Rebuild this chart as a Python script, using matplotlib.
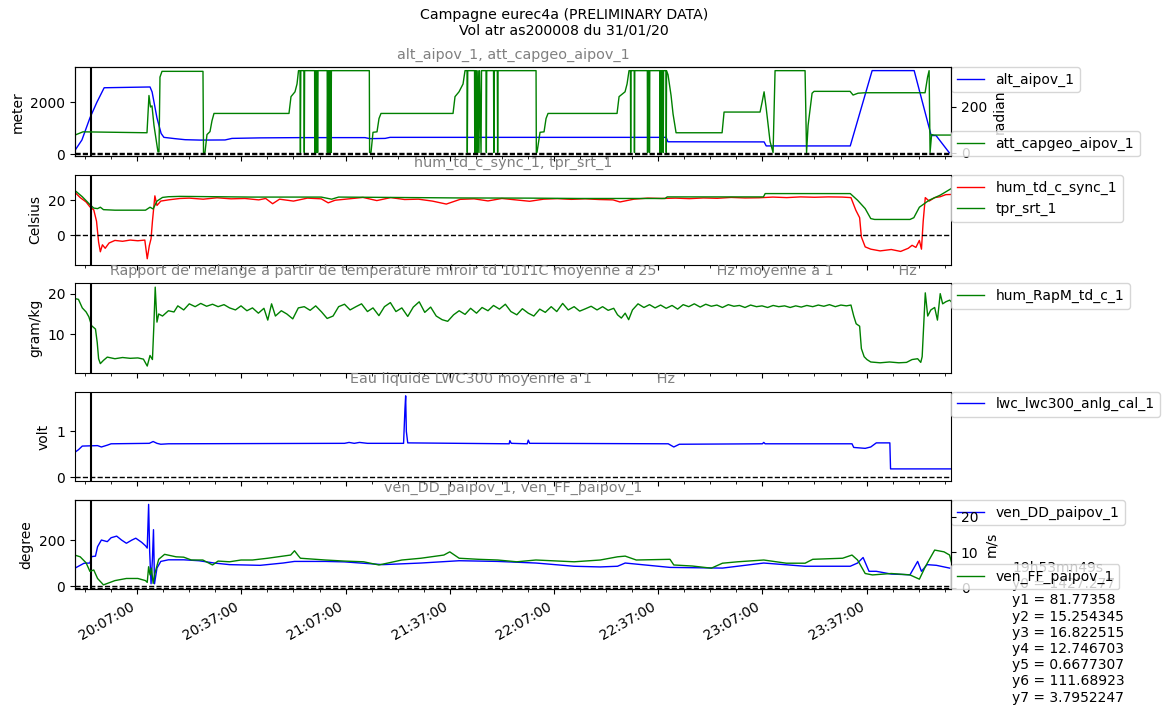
import numpy as np
import pandas as pd
import matplotlib
matplotlib.use("Agg")
import matplotlib.pyplot as plt
import matplotlib.dates as mdates
from matplotlib.ticker import MaxNLocator, AutoMinorLocator

# all times are minutes after 19:00 on 31/01/20 (values past 240 are after midnight)
cursor_t = 53.817   # 19h53mn49s
t_start, t_end = 49.1, 301.3

alt_t = [49.1, 51.1, 53.4, 55.4, 57.5, 70.7, 71.3, 72.7, 73.9, 74.7, 77.9, 80.8, 85.1, 92.3,
         94.3, 102.4, 113.9, 132.6, 134.0, 138.4, 139.8, 219.3, 219.8, 247.5, 248.1, 272.3,
         278.6, 290.7, 295.6, 297.0, 300.8]
alt_m = [150, 550, 1400, 2000, 2560, 2590, 2400, 1400, 800, 650, 600, 560, 545, 550,
         610, 630, 640, 640, 600, 610, 650, 650, 480, 475, 320, 320,
         3220, 3220, 720, 720, 60]

cap_t = [49.1, 51.4, 69.83, 70.40, 70.84, 71.27, 71.84, 72.99, 73.28, 73.57, 74.15, 85.95,
         86.10, 86.53, 87.10, 87.97, 88.54, 89.12, 110.71, 111.29, 112.44, 113.02, 113.45,
         113.88, 114.00, 114.11, 115.03, 115.12, 115.21, 118.09, 118.14, 118.26, 118.43,
         118.55, 118.72, 118.83, 118.95, 119.07, 121.71, 121.77, 121.89, 122.12, 122.23,
         122.46, 122.58, 122.81, 122.92, 133.84, 133.92, 134.33, 134.90, 136.05, 136.63,
         137.20, 157.94, 158.51, 159.66, 160.82, 161.39, 161.97, 162.05, 162.17, 164.13,
         164.19, 164.33, 164.56, 164.70, 164.99, 165.14, 165.42, 165.57, 166.00, 166.14,
         167.44, 167.53, 167.64, 169.60, 169.69, 169.80, 170.69, 170.78, 170.89, 181.84,
         181.92, 182.12, 182.99, 184.14, 184.72, 185.29, 205.16, 205.74, 207.46, 208.04,
         208.61, 209.02, 209.08, 209.16, 210.11, 210.17, 210.26, 213.88, 213.94, 214.03,
         214.43, 214.49, 214.58, 217.46, 217.51, 217.60, 217.89, 217.94, 218.03, 218.40,
         218.46, 218.55, 219.27, 219.33, 219.41, 219.84, 220.71, 221.28, 222.15, 235.40,
         235.97, 246.33, 246.91, 247.49, 248.06, 249.21, 250.08, 250.65, 259.29, 259.72,
         260.16, 261.31, 261.88, 272.25, 273.11, 274.55, 276.57, 293.84, 294.56, 295.00,
         295.28, 295.72, 296.44, 301.33]
cap_deg = [78, 92, 88, 250, 200, 205, 120, 5, 5, 330, 355, 355,
           2, 3, 80, 93, 140, 172, 172, 245, 266, 300, 358,
           358, 2, 358, 358, 2, 358, 358, 2, 358, 2,
           358, 2, 358, 2, 358, 358, 2, 358, 2, 358,
           2, 358, 2, 358, 358, 2, 3, 90, 92, 150,
           172, 172, 245, 266, 300, 358, 358, 2, 358, 358,
           2, 358, 2, 358, 2, 358, 2, 358, 2, 358,
           358, 2, 358, 358, 2, 358, 358, 2, 358, 358,
           2, 3, 90, 92, 150, 172, 172, 245, 266, 300,
           358, 358, 2, 358, 358, 2, 358, 358, 2, 358,
           358, 2, 358, 358, 2, 358, 358, 2, 358, 358,
           2, 358, 358, 2, 358, 340, 250, 170, 88, 88,
           178, 178, 220, 266, 200, 50, 2, 358, 358, 2,
           120, 260, 268, 268, 252, 260, 262, 262, 330, 358,
           2, 80, 78, 78]

td_t = [49.0, 50.6, 52.3, 53.4, 54.5, 55.3, 55.9, 56.4, 57.0, 57.8, 58.9, 60.6, 62.8, 65.0,
        67.2, 69.2, 69.9, 70.5, 71.0, 71.4, 72.1, 72.7, 73.8, 76.0, 79.3, 82, 86, 90, 94, 98,
        102, 104, 106, 108, 112, 116, 120, 122, 124, 128, 132, 136, 140, 144, 148, 152, 156,
        160, 164, 168, 172, 176, 180, 184, 188, 192, 196, 200, 204, 206, 210, 214, 218, 222,
        226, 230, 234, 238, 242, 246, 250, 254, 258, 262, 266, 270, 272.5, 273.9, 275.0,
        275.5, 276.6, 278.2, 280.9, 284.1, 286.8, 289.0, 290.1, 291.2, 292.2, 292.8, 293.3,
        293.9, 295.0, 296.6, 298.2, 299.8, 301.4]
td_c = [24.7, 21.5, 19.0, 16.2, 14.5, 8, -4, -9.5, -5.5, -7.5, -4.5, -3, -3.5, -2.8,
        -3.2, -2.8, -13.5, -6, -2, 8, 22.5, 17, 19.5, 20.2, 21, 21.2, 20.6, 21.4, 20.8, 21.0,
        20.2, 21.0, 18.0, 20.6, 19.5, 21.2, 20.8, 18.5, 20.0, 20.8, 21.6, 19.8, 21.5, 20.4, 20.6,
        19.5, 17.8, 20.5, 20.8, 19.6, 21.0, 20.2, 19.4, 20.6, 20.9, 20.5, 20.8, 20.4, 20.2,
        19.0, 20.6, 21.2, 21.0, 21.2, 20.9, 21.3, 21.1, 21.6, 21.3, 21.4, 21.8, 21.5, 21.9,
        21.7, 21.9, 21.8, 21.5, 14.3, 10, -1, -6.7, -8, -9, -8.2, -9.3, -7.5, -5.8, -7, -3,
        -8, 8, 21.5, 19.5, 21.5, 22, 23.2, 23.3]

tpr_t = [49.0, 51.2, 53.4, 54.5, 55.6, 56.4, 57.3, 60.6, 69.4, 70.7, 71.6, 72.7, 74.3, 76.0,
         79.3, 100, 120, 123, 125, 140, 160, 180, 194, 219.0, 219.6, 247.3, 247.8, 272.3,
         274.4, 276.6, 278.2, 279.3, 289.5, 290.6, 292.2, 295.0, 298.2, 301.4]
tpr_c = [25.7, 22, 17.5, 15.5, 15.2, 16.0, 14.6, 14.3, 14.3, 16.0, 15.0, 19.5, 21.6, 22.0,
         22.2, 21.8, 21.8, 20.6, 21.8, 21.6, 21.3, 21.2, 21.0, 21.0, 21.9, 21.9, 23.8, 23.8,
         20, 15.2, 9.5, 9.0, 9.0, 10, 16, 20, 22.9, 26.7]

rapm_t = [49.0, 50.1, 51.2, 52.3, 53.1, 53.9, 55.0, 55.5, 55.9, 56.4, 57.3, 58.4, 60.6, 62.8,
          65.0, 67.2, 68.8, 69.9, 70.7, 71.4, 71.8, 72.2, 72.7, 73.2, 74.3, 76.0, 77.6, 78.7,
          80.4, 82.0, 83.7, 85.3, 87.0, 88.7, 90.3, 92.0, 93.6, 95.3, 96.9, 98.6, 100.2,
          101.9, 103.5, 104.6, 105.7, 106.8, 108.5, 110.1, 111.8, 113.4, 115.1, 116.8, 118.4,
          120.1, 121.7, 123.4, 125.0, 126.7, 128.3, 130.0, 131.6, 133.3, 134.9, 136.6, 138.2,
          139.9, 141.5, 143.2, 144.9, 146.5, 148.2, 149.8, 151.5, 153.1, 154.8, 156.4, 158.1,
          159.7, 161.4, 163.0, 164.7, 166.3, 168.0, 169.6, 171.3, 173.0, 174.6, 176.3, 177.9,
          179.6, 181.2, 182.9, 184.5, 186.2, 187.8, 189.5, 191.1, 192.8, 194.4, 196.1, 197.7,
          199.4, 201.0, 202.6, 204.2, 205.3, 206.4, 207.5, 208.5, 209.6, 211.2, 212.9, 214.5,
          216.1, 217.7, 219.3, 221.0, 222.6, 224.2, 225.8, 227.4, 229.1, 230.7, 232.3, 233.9,
          235.5, 237.2, 238.8, 240.4, 242.0, 243.6, 245.3, 246.9, 248.5, 250.1, 251.7, 253.4,
          255.0, 256.6, 258.2, 259.8, 261.5, 263.1, 264.7, 266.3, 268.0, 269.6, 271.2, 272.5,
          273.3, 274.0, 275.0, 275.5, 276.3, 277.1, 278.2, 280.9, 283.6, 286.3, 288.5, 290.1,
          291.7, 292.6, 293.0, 293.9, 294.6, 295.5, 296.6, 297.4, 298.2, 298.9, 299.8, 300.9,
          301.4]
rapm_gkg = [18.8, 18.6, 16.5, 15.5, 14.3, 12.1, 11.3, 8, 4, 2.8, 3.6, 4.4, 4.0, 4.3,
            4.1, 4.2, 3.9, 2.2, 4.8, 3.8, 12, 21.6, 13, 15, 14.5, 15.8, 15.5, 17,
            16, 17.5, 16.8, 17.6, 16.9, 17.4, 16.8, 17.3, 16.5, 16.0, 17.0, 15.8, 16.5,
            15.2, 16.4, 13.5, 17.5, 14.5, 15.8, 15.0, 13.8, 16.5, 16.8, 15.9, 17.0,
            15.5, 13.9, 14.5, 16.8, 17.4, 16.0, 16.8, 17.5, 15.6, 16.5, 14.6, 16.8,
            17.8, 15.6, 16.5, 14.4, 16.7, 18.0, 15.4, 16.7, 14.5, 13.6, 13.2, 14.8,
            15.8, 14.9, 16.4, 15.2, 16.6, 15.8, 17.1, 16.2, 17.4, 15.6, 14.8, 16.3,
            15.2, 14.5, 16.2, 15.4, 16.8, 15.6, 17.6, 16.0, 16.8, 15.7, 16.3, 16.9,
            16.0, 16.8, 15.9, 16.4, 14.8, 14.0, 15.2, 13.6, 16.0, 17.5, 16.6, 17.3,
            16.5, 17.2, 16.4, 17.1, 16.2, 17.3, 16.8, 17.5, 16.7, 17.4, 16.9, 17.2,
            16.6, 17.3, 16.9, 17.1, 16.6, 17.2, 16.8, 17.0, 16.6, 17.1, 16.8, 17.0,
            16.6, 17.0, 16.7, 17.1, 16.8, 17.2, 16.9, 17.3, 16.8, 17.2, 17.0, 17.2,
            14.5, 12.6, 12.0, 6.5, 4.5, 3.8, 3.2, 3.0, 3.2, 3.0, 3.1, 3.8,
            4.0, 3.1, 4.5, 20.2, 14.5, 16.0, 16.6, 13.5, 20.0, 17.5, 18.0, 18.4,
            18.0]

lwc_t = [49.0, 50.1, 51.2, 55.6, 56.7, 58.4, 59.5, 70.5, 71.6, 72.7, 73.8, 76.0, 126.7, 128.0,
         129.5, 131.0, 133.3, 143.7, 144.1, 144.3, 144.5, 144.9, 174.1, 174.3, 174.7, 179.3,
         179.6, 180.0, 219.9, 221.5, 223.1, 247.0, 247.4, 247.8, 272.8, 273.3, 276.6, 278.2,
         279.8, 283.7, 283.9, 301.4]
lwc_v = [0.54, 0.60, 0.68, 0.69, 0.66, 0.70, 0.73, 0.74, 0.78, 0.74, 0.72, 0.73, 0.74, 0.76,
         0.74, 0.76, 0.74, 0.74, 1.5, 1.78, 1.0, 0.75, 0.73, 0.80, 0.74, 0.73,
         0.81, 0.74, 0.73, 0.66, 0.72, 0.73, 0.76, 0.73, 0.73, 0.65, 0.63, 0.66,
         0.75, 0.75, 0.18, 0.18]

dd_t = [49.0, 51.7, 53.4, 53.9, 55.0, 55.6, 56.7, 58.4, 59.5, 61.1, 62.5, 63.9, 65.5, 66.6,
        68.3, 69.4, 69.9, 70.3, 70.6, 71.0, 71.4, 71.7, 72.0, 72.7, 73.8, 76.0, 80.4, 84.8,
        89.2, 93.6, 102.4, 109.0, 112.3, 121.2, 126.7, 137.7, 148.7, 159.7, 170.8, 181.8,
        192.8, 200.3, 205.3, 207.5, 220.4, 235.5, 247.4, 259.3, 272.3, 274.4, 276.0, 277.7,
        279.8, 284.1, 289.5, 291.7, 292.8, 294.4, 297.1, 300.9]
dd_deg = [77, 99, 100, 128, 130, 171, 200, 193, 210, 217, 200, 186, 200, 208,
          190, 175, 165, 355, 150, 10, 120, 245, 10, 78, 107, 114, 114, 110,
          100, 93, 90, 100, 107, 107, 105, 93, 100, 110, 107, 100,
          86, 83, 86, 100, 81, 78, 100, 86, 86, 100, 124, 64,
          64, 52, 49, 107, 64, 93, 90, 78]

ff_t = [49.0, 50.6, 52.3, 53.4, 54.5, 55.6, 57.3, 58.4, 60.6, 63.9, 67.2, 69.4, 69.9, 70.3,
        70.7, 71.1, 71.6, 72.1, 73.2, 74.9, 78.2, 80.4, 82.6, 85.9, 88.7, 90.3, 93.6, 96.9,
        100.2, 104.6, 109.0, 111.2, 112.3, 113.4, 114.0, 121.2, 126.7, 132.2, 136.6, 143.2,
        148.7, 155.3, 157.0, 159.7, 165.2, 170.8, 176.3, 181.8, 192.8, 200.3, 205.3, 207.5,
        210.7, 220.4, 221.5, 226.9, 232.3, 235.5, 239.9, 247.4, 253.9, 259.3, 261.5, 270.1,
        272.8, 274.4, 276.6, 278.7, 284.1, 289.5, 292.2, 293.9, 295.5, 296.6, 299.3, 300.9,
        301.4]
ff_ms = [9.2, 8.7, 7.0, 4.6, 5.0, 2.6, 0.8, 1.2, 2.0, 2.6, 2.6, 2.0, 1.5, 5.9,
         3.6, 5.5, 1.2, 4.0, 8.0, 9.4, 8.7, 8.6, 7.8, 7.8, 6.4, 7.5, 7.3, 7.8,
         7.8, 8.3, 8.9, 9.2, 10.4, 9.0, 8.3, 7.8, 7.5, 7.3, 6.4, 7.8,
         8.3, 9.2, 10.1, 8.3, 8.0, 7.8, 7.3, 7.8, 7.3, 7.8, 8.7, 8.9,
         7.8, 8.0, 6.4, 6.1, 5.5, 6.9, 7.3, 7.8, 6.9, 6.9, 8.0, 8.3,
         9.2, 7.8, 4.0, 3.6, 4.0, 3.6, 2.4, 5.9, 8.7, 10.6, 10.1, 9.2,
         7.3]

titles = ["alt_aipov_1, att_capgeo_aipov_1",
          "hum_td_c_sync_1, tpr_srt_1",
          "Rapport de melange a partir de temperature miroir td 1011C moyenne a 25"
          + " " * 13 + "Hz moyenne a 1" + " " * 14 + "Hz",
          "Eau liquide LWC300 moyenne a 1" + " " * 14 + "Hz",
          "ven_DD_paipov_1, ven_FF_paipov_1"]
units = ["meter", "Celsius", "gram/kg", "volt", "degree"]

readout = ("19h53mn49s\ny0 = 1427.277\ny1 = 81.77358\ny2 = 15.254345\ny3 = 16.822515\n"
           "y4 = 12.746703\ny5 = 0.6677307\ny6 = 111.68923\ny7 = 3.7952247")


def to_time(minutes):
    base = pd.Timestamp("2020-01-31 19:00:00")
    return (base + pd.to_timedelta(np.asarray(minutes, dtype=float), unit="min")).values


fig, axs = plt.subplots(5, 1, sharex=True, figsize=(11.68, 7.08), dpi=100)
fig.subplots_adjust(left=0.0642, right=0.8142, top=0.9054, bottom=0.1674, hspace=0.21)

ax1, ax2, ax3, ax4, ax5 = axs
ax1.plot(to_time(alt_t), alt_m, color="b", lw=1, label="alt_aipov_1")
ax1b = ax1.twinx()
ax1b.plot(to_time(cap_t), cap_deg, color="g", lw=1, label="att_capgeo_aipov_1")

ax2.plot(to_time(td_t), td_c, color="r", lw=1, label="hum_td_c_sync_1")
ax2.plot(to_time(tpr_t), tpr_c, color="g", lw=1, label="tpr_srt_1")

ax3.plot(to_time(rapm_t), rapm_gkg, color="g", lw=1, label="hum_RapM_td_c_1")

ax4.plot(to_time(lwc_t), lwc_v, color="b", lw=1, label="lwc_lwc300_anlg_cal_1")

ax5.plot(to_time(dd_t), dd_deg, color="b", lw=1, label="ven_DD_paipov_1")
ax5b = ax5.twinx()
ax5b.plot(to_time(ff_t), ff_ms, color="g", lw=1, label="ven_FF_paipov_1")

cursor = to_time([cursor_t])[0]
for ax, title, unit in zip(axs, titles, units):
    ax.axhline(0, color="k", ls="--", lw=1)
    ax.axvline(cursor, color="k", lw=1.5)
    ax.set_title(title, color="grey", fontsize=10.4)
    ax.set_ylabel(unit, fontsize=10)
    ax.legend(loc="upper left", bbox_to_anchor=(1, 1), borderaxespad=0, fontsize=10)

for tw, unit in [(ax1b, "radian"), (ax5b, "m/s")]:
    tw.axhline(0, color="k", ls="--", lw=1)
    tw.set_ylabel(unit, fontsize=10)
    tw.legend(loc="lower left", bbox_to_anchor=(1, 0), borderaxespad=0, fontsize=10)

ax1.set_ylim(-85, 3360)
ax1b.set_ylim(-15, 374)
ax2.set_ylim(-16.9, 34.3)
ax3.set_ylim(0.5, 22.5)
ax4.set_ylim(-0.09, 1.87)
ax5.set_ylim(-15, 374)
ax5b.set_ylim(-0.5, 24.7)

for ax in list(axs) + [ax1b, ax5b]:
    ax.yaxis.set_major_locator(MaxNLocator(3, steps=[1, 2, 2.5, 5, 10]))
    ax.tick_params(labelsize=10)

ax5.set_xlim(to_time([t_start])[0], to_time([t_end])[0])
ax5.xaxis.set_major_locator(mdates.MinuteLocator(byminute=[7, 37]))
ax5.xaxis.set_major_formatter(mdates.DateFormatter("%H:%M:%S"))
ax5.xaxis.set_minor_locator(AutoMinorLocator(4))
plt.setp(ax5.get_xticklabels(), rotation=30, ha="right")

fig.suptitle("Campagne eurec4a (PRELIMINARY DATA)\nVol atr as200008 du 31/01/20",
             x=0.483, y=0.989, fontsize=10.2, va="top")
fig.text(0.8664, 0.2076, readout, fontsize=10, ha="left", va="top", zorder=-1)

fig.savefig("out.png", dpi=100)
